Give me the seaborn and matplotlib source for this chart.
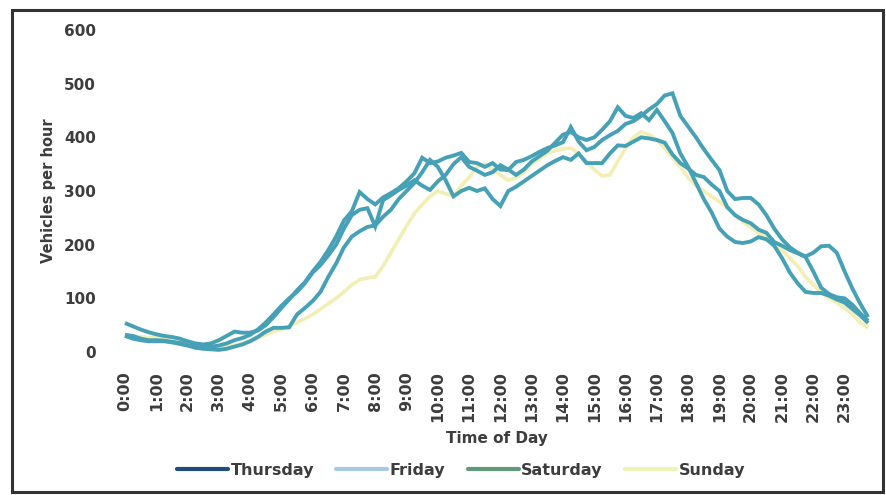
import numpy as np
import pandas as pd
import matplotlib
matplotlib.use("Agg")
import matplotlib.pyplot as plt
from matplotlib.lines import Line2D
from matplotlib.patches import Rectangle
import seaborn as sns

# 15-minute intervals, 0:00 .. 23:45
times = [f"{h}:{m:02d}" for h in range(24) for m in (0, 15, 30, 45)]
hour_labels = [f"{h}:00" for h in range(24)]
days = ["Thursday", "Friday", "Saturday", "Sunday"]

thursday = [54, 48, 42, 37, 33, 30, 28, 25, 20, 16, 14, 16, 22, 30, 38, 36,
            36, 40, 50, 65, 82, 98, 115, 130, 150, 168, 190, 215, 245, 262, 298, 285,
            275, 288, 296, 305, 318, 333, 362, 352, 355, 362, 366, 371, 354, 352, 345, 352,
            340, 339, 354, 358, 365, 373, 380, 385, 391, 419, 392, 376, 382, 395, 404, 412,
            425, 430, 440, 452, 462, 478, 482, 440, 420, 400, 378, 358, 339, 300, 285, 287,
            287, 275, 255, 230, 210, 195, 185, 178, 185, 197, 198, 185, 150, 118, 90, 65]
friday = [32, 30, 25, 22, 22, 21, 19, 17, 13, 10, 9, 10, 12, 16, 22, 26,
          32, 42, 55, 70, 86, 100, 112, 128, 148, 162, 180, 200, 230, 255, 265, 268,
          234, 283, 292, 302, 310, 320, 310, 302, 318, 330, 350, 363, 345, 338, 330, 335,
          348, 340, 330, 340, 355, 365, 375, 390, 405, 410, 400, 395, 400, 414, 430, 456,
          440, 436, 445, 432, 451, 430, 408, 370, 345, 315, 285, 260, 230, 215, 205, 203,
          206, 214, 210, 198, 175, 148, 128, 112, 110, 110, 105, 98, 92, 80, 68, 54]
saturday = [30, 25, 22, 20, 20, 20, 18, 15, 12, 8, 6, 5, 4, 6, 10, 14,
            20, 28, 38, 45, 45, 46, 70, 82, 95, 112, 140, 165, 195, 215, 225, 233,
            236, 252, 265, 285, 300, 315, 335, 358, 345, 320, 290, 300, 306, 300, 305, 285,
            272, 300, 308, 318, 328, 338, 348, 356, 363, 358, 370, 352, 352, 352, 370, 385,
            384, 392, 400, 398, 395, 390, 368, 352, 342, 330, 326, 312, 300, 270, 255, 246,
            240, 228, 222, 205, 198, 190, 184, 177, 150, 120, 108, 102, 100, 88, 72, 58]
sunday = [30, 30, 28, 27, 27, 26, 25, 22, 18, 15, 12, 10, 9, 10, 12, 15,
          20, 26, 32, 38, 42, 48, 55, 62, 70, 80, 90, 100, 112, 125, 135, 138,
          140, 160, 185, 210, 235, 258, 275, 290, 300, 295, 290, 310, 325, 345, 350, 340,
          330, 320, 325, 335, 350, 360, 370, 375, 378, 380, 370, 355, 340, 328, 330, 355,
          380, 400, 410, 405, 395, 380, 362, 345, 325, 310, 300, 290, 280, 268, 255, 242,
          232, 222, 212, 200, 190, 175, 160, 140, 125, 112, 100, 92, 82, 70, 55, 45]

series = {"Thursday": thursday, "Friday": friday, "Saturday": saturday, "Sunday": sunday}

rows = []
for d in days:
    for i, (t, v) in enumerate(zip(times, series[d])):
        rows.append({"pos": i / 4.0, "time": t, "day": d, "value": v})
df = pd.DataFrame(rows)

line_colors = {"Thursday": "#46a1b6", "Friday": "#46a1b6",
               "Saturday": "#46a1b6", "Sunday": "#f2eeb4"}
legend_colors = {"Thursday": "#1f4e79", "Friday": "#a9c8e4",
                 "Saturday": "#5f9a7c", "Sunday": "#eef3b8"}

sns.set_theme(style="white")
plt.rcParams['font.family'] = ['DejaVu Sans']

fig = plt.figure(figsize=(8.87, 4.95), dpi=100)
ax = fig.add_axes([121 / 887, 143 / 495, 751 / 887, 322 / 495])

# draw Sunday first so teal lines sit on top
for d in ["Sunday", "Saturday", "Friday", "Thursday"]:
    sns.lineplot(data=df[df["day"] == d], x="pos", y="value", color=line_colors[d],
                 linewidth=2.8 if d != "Sunday" else 2.6, ax=ax, legend=False,
                 solid_joinstyle="miter", solid_capstyle="butt")

ax.set_xlim(-0.125, 23.875)
ax.set_ylim(0, 600)
ax.set_yticks([0, 100, 200, 300, 400, 500, 600])
ax.set_xticks(range(24))
txtc = "#3d3d3d"
ax.set_xticklabels(hour_labels, rotation=90, fontsize=11.5, fontweight="bold", color=txtc)
ax.set_yticklabels([str(v) for v in [0, 100, 200, 300, 400, 500, 600]],
                   fontsize=11, fontweight="bold", color=txtc)
ax.tick_params(axis="both", length=0, pad=16)
ax.tick_params(axis="y", pad=18)
ax.tick_params(axis="x", pad=14)
for s in ax.spines.values():
    s.set_visible(False)
ax.set_xlabel("Time of Day", fontsize=11, fontweight="bold", color=txtc, labelpad=6)
ax.set_ylabel("Vehicles per hour", fontsize=10.5, fontweight="bold", color=txtc, labelpad=6)
ax.grid(False)

handles = [Line2D([0], [0], color=legend_colors[d], linewidth=3) for d in days]
fig.legend(handles, days, loc="center", bbox_to_anchor=(461 / 887, 1 - 470 / 495),
           ncol=4, frameon=False, handlelength=3.2, handletextpad=0.15,
           columnspacing=1.4, prop={"size": 11.5, "weight": "bold"}, labelcolor=txtc)

fig.patches.append(Rectangle((12 / 887, 3 / 495), 871 / 887, 482 / 495,
                             transform=fig.transFigure, fill=False,
                             edgecolor="#333333", linewidth=2.2))

fig.savefig("out.png", dpi=100)
